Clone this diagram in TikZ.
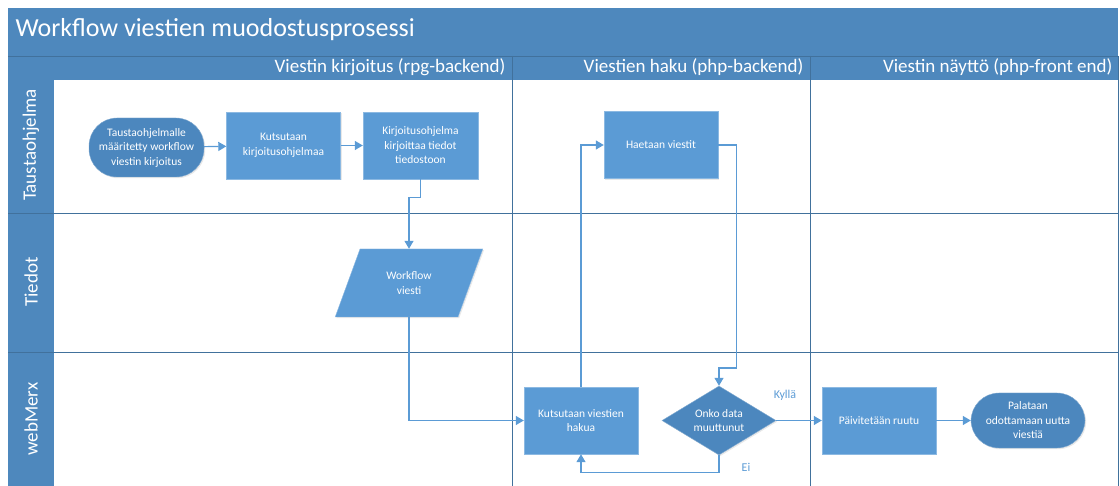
\documentclass[tikz,border=0pt]{standalone}
\usepackage{fontspec}
\setmainfont{Carlito}
\usepackage{tikz}
\usetikzlibrary{shapes.geometric, arrows.meta, positioning, calc, shadows}

\definecolor{kaista}{HTML}{4E88BD}
\definecolor{laatikko}{HTML}{5B9BD5}
\definecolor{tumma}{HTML}{4C87BE}
\definecolor{viiva}{HTML}{41719C}

\tikzset{
  varjo/.style={drop shadow={opacity=0.18, shadow xshift=1.2pt, shadow yshift=-1.2pt}},
  prosessi/.style={rectangle, fill=laatikko, draw=laatikko!70!white, text=white, align=center,
    minimum width=114pt, minimum height=67pt, inner sep=2pt, varjo,
    font=\fontsize{11.5}{14.5}\selectfont},
  alkuloppu/.style={prosessi, fill=tumma, draw=tumma!70!white, rounded corners=28pt, minimum height=57pt},
  paatos/.style={prosessi, diamond, fill=tumma, draw=tumma!70!white, aspect=1.65,
    minimum width=114pt, minimum height=69pt, inner sep=0pt},
  tieto/.style={prosessi, trapezium, trapezium left angle=63, trapezium right angle=117,
    trapezium stretches=true, minimum width=148pt, minimum height=68pt, inner sep=0pt},
  nuoli/.style={draw=laatikko, line width=1.2pt, -{Triangle[length=8pt,width=9pt]}},
  kaistateksti/.style={text=white, font=\fontsize{19}{22}\selectfont},
  ehto/.style={text=laatikko, font=\fontsize{12}{14}\selectfont}
}

\begin{document}
\begin{tikzpicture}[x=1pt, y=-1pt]
\useasboundingbox (0,0) rectangle (1120,486);

% Title and column header bands
\fill[kaista] (8,8) rectangle (1118,80);
\draw[viiva, line width=0.6pt] (8,56) -- (1118,56);
\node[kaistateksti, anchor=west, font=\fontsize{26}{30}\selectfont] (otsikko) at (12,30) {Workflow viestien muodostusprosessi};
\foreach \xr/\nimi/\teksti in {509/sar1/Viestin kirjoitus (rpg-backend),
                              807/sar2/Viestien haku (php-backend),
                              1116/sar3/Viestin näyttö (php-front end)} {
  \node[kaistateksti, anchor=east] (\nimi) at (\xr,67) {\teksti};
}

% Lanes
\fill[kaista] (8,80) rectangle (54,486);
\foreach \y in {213,352} {
  \draw[viiva, line width=0.8pt] (8,\y) -- (1118,\y);
}
\draw[viiva, line width=0.8pt] (1118,56) -- (1118,486);
\foreach \x in {512,810} {
  \draw[viiva, line width=0.8pt] (\x,56) -- (\x,486);
}
\foreach \y/\nimi/\teksti in {145/rata1/Taustaohjelma, 282/rata2/Tiedot, 419/rata3/webMerx} {
  \node[kaistateksti, rotate=90] (\nimi) at (31,\y) {\teksti};
}

% Steps
\node[alkuloppu, minimum width=115pt, minimum height=59pt] (alku) at (146.5,147.5)
  {Taustaohjelmalle\\määritetty workflow\\viestin kirjoitus};
\node[prosessi] (kutsu) at (283.5,145.5) {Kutsutaan\\kirjoitusohjelmaa};
\node[prosessi, minimum width=115pt] (kirjoita) at (420.5,145.5) {Kirjoitusohjelma\\kirjoittaa tiedot\\tiedostoon};
\node[tieto] (viesti) at (409,283) {Workflow\\viesti};
\node[prosessi] (hae) at (661,145) {Haetaan viestit};
\node[prosessi] (haku) at (581,420.5) {Kutsutaan viestien\\hakua};
\node[paatos] (muutos) at (719,420.5) {Onko data\\muuttunut};
\node[prosessi] (paivita) at (879,420.5) {Päivitetään ruutu};
\node[alkuloppu, minimum width=114pt, minimum height=55pt] (loppu) at (1028,420.5)
  {Palataan\\odottamaan uutta\\viestiä};

% Connectors
\draw[nuoli] (alku) -- (kutsu);
\draw[nuoli] (kutsu) -- (kirjoita);
\draw[nuoli] (kirjoita.south) -- ++(0,18) -| (viesti.north);
\draw[nuoli] (viesti.south) |- (haku.west);
\draw[nuoli] (haku.north) |- (hae.west);
\draw[nuoli] (hae.east) -- ++(18,0) -- ++(0,223) -| (muutos.north);
\draw[nuoli] (muutos.east) -- (paivita.west);
\draw[nuoli] (muutos.south) -- ++(0,17) -| (haku.south);
\draw[nuoli] (paivita) -- (loppu);

% Branch labels
\node[ehto] (kylla) at (785,395) {Kyllä};
\node[ehto] (ei) at (746,467) {Ei};
\end{tikzpicture}
\end{document}
